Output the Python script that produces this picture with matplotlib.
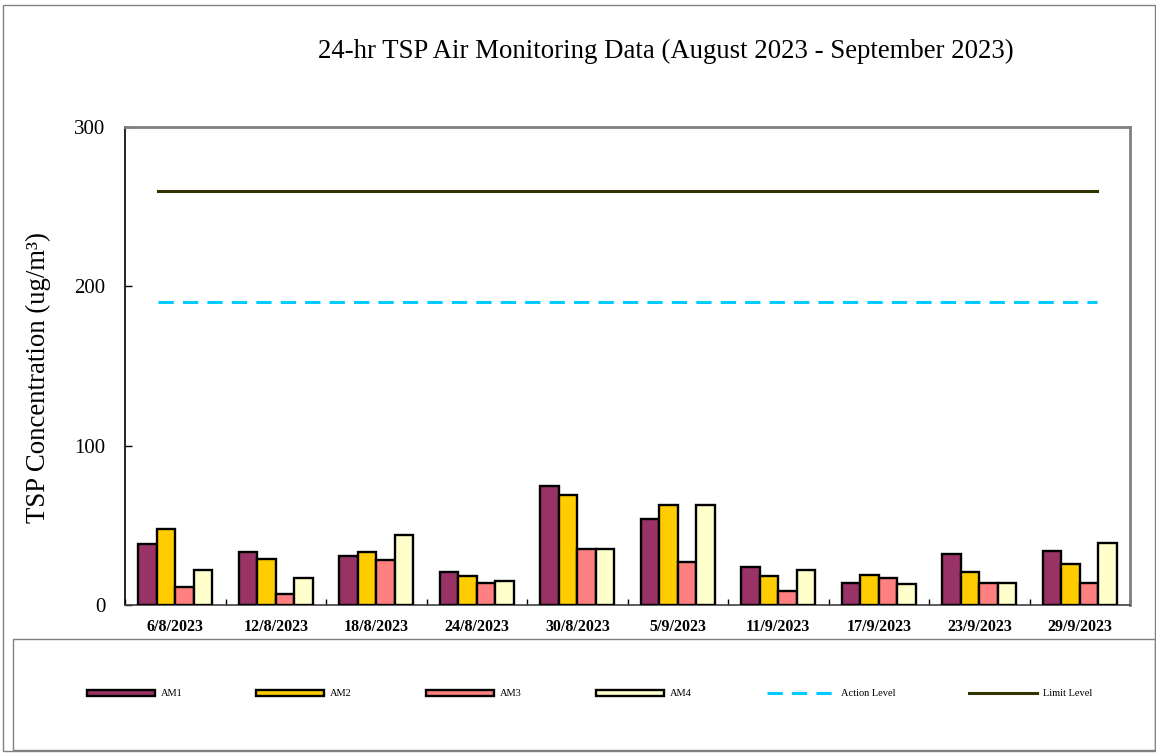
import matplotlib
matplotlib.use("Agg")
import matplotlib.pyplot as plt
import numpy as np
from matplotlib.patches import Rectangle, Patch
from matplotlib.lines import Line2D

dates = ["6/8/2023", "12/8/2023", "18/8/2023", "24/8/2023", "30/8/2023",
         "5/9/2023", "11/9/2023", "17/9/2023", "23/9/2023", "29/9/2023"]
am1 = [38, 33, 31, 21, 75, 54, 24, 14, 32, 34]
am2 = [48, 29, 33, 18, 69, 63, 18, 19, 21, 26]
am3 = [11, 7, 28, 14, 35, 27, 9, 17, 14, 14]
am4 = [22, 17, 44, 15, 35, 63, 22, 13, 14, 39]
action_level = 190
limit_level = 260
yticks = [0, 100, 200, 300]

series = [("AM1", am1, "#993366"), ("AM2", am2, "#FFCC00"),
          ("AM3", am3, "#FF8080"), ("AM4", am4, "#FFFFCC")]

plt.rcParams['font.family'] = ['Liberation Serif', 'DejaVu Serif']

W, H = 1156, 753
fig = plt.figure(figsize=(W / 100, H / 100), dpi=100)

# outer frame and legend box
fig.add_artist(Rectangle((3 / W, 1 - 751 / H), 1152 / W, 746 / H, transform=fig.transFigure,
                         fill=False, edgecolor="#808080", lw=1))
fig.add_artist(Rectangle((13 / W, 1 - 750 / H), 1142 / W, 111 / H, transform=fig.transFigure,
                         fill=False, edgecolor="#808080", lw=1))

ax = fig.add_axes([125 / W, 1 - 605 / H, 1005 / W, 478 / H])
x = np.arange(len(dates))
w = 0.184
for j, (name, vals, col) in enumerate(series):
    ax.bar(x + (j - 1.5) * w, vals, width=w, color=col, edgecolor="black", linewidth=1.7,
           zorder=3)

ax.axhline(action_level, xmin=0.033, xmax=0.967, color="#00CCFF", lw=2.2,
           dashes=(5, 3), zorder=2)
ax.axhline(limit_level, xmin=0.033, xmax=0.967, color="#333300", lw=2.2, zorder=2)

ax.set_xlim(-0.5, len(dates) - 0.5)
ax.set_ylim(0, 300)
ax.set_yticks(yticks)
ax.set_yticklabels([str(v) for v in yticks], fontsize=15)
ax.set_xticks(x)
ax.set_xticklabels(dates, fontsize=11.5, fontweight="bold")
ax.set_xticks(np.arange(-0.5, len(dates), 1.0), minor=True)
ax.tick_params(axis="x", which="major", length=0, pad=10)
ax.tick_params(axis="x", which="minor", length=4, direction="in", width=1)
ax.tick_params(axis="y", which="major", length=5, direction="in", width=1, pad=14)

ax.spines["left"].set_color("black")
ax.spines["bottom"].set_color("#404040")
ax.spines["top"].set_color("#808080")
ax.spines["right"].set_color("#808080")
ax.spines["top"].set_linewidth(2)
ax.spines["right"].set_linewidth(2)
ax.spines["left"].set_linewidth(1.2)
ax.spines["bottom"].set_linewidth(1.2)

fig.text(666 / W, 1 - 51 / H, "24-hr TSP Air Monitoring Data (August 2023 - September 2023)",
         ha="center", va="center", fontsize=19.3)
fig.text(38 / W, 1 - 378 / H, "TSP Concentration (ug/m³)", rotation=90,
         ha="center", va="center", fontsize=19.3)

# legend entries
handles = [Patch(facecolor=col, edgecolor="black", linewidth=1.7) for _, _, col in series]
handles.append(Line2D([0], [0], color="#00CCFF", lw=2.2, dashes=(5, 3)))
handles.append(Line2D([0], [0], color="#333300", lw=2.2))
labels = [s[0] for s in series] + ["Action Level", "Limit Level"]
lx = [87, 256, 426, 596, 767, 969]
for h, lab, xx in zip(handles, labels, lx):
    leg = fig.legend([h], [lab], loc="center left", bbox_to_anchor=(xx / W, 1 - 694 / H),
                     frameon=False, fontsize=7.5, handlelength=6.5, handleheight=0.6,
                     handletextpad=0.6, borderpad=0, borderaxespad=0)

fig.savefig("out.png", dpi=100)
